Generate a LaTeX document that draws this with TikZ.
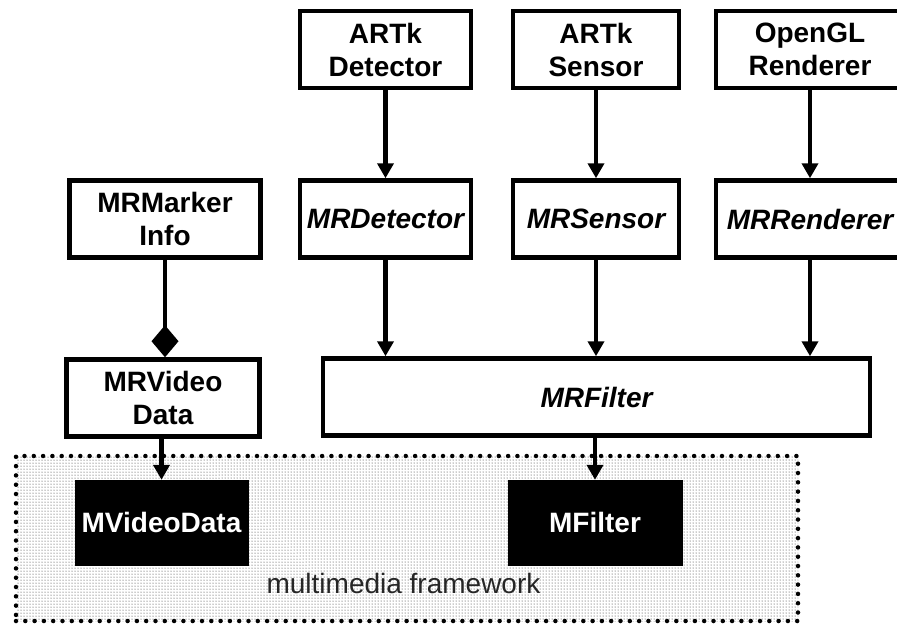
\documentclass[tikz,border=0pt]{standalone}
\usepackage{fontspec}
\setmainfont{Liberation Sans}
\usetikzlibrary{arrows.meta,patterns}
\begin{document}
\begin{tikzpicture}[x=1pt,y=-1pt,
  label font/.style={font=\bfseries\fontsize{28}{33}\selectfont},
  box/.style={draw,line width=4.5pt,inner sep=0pt,align=center,fill=white,label font},
  classbox/.style={box,font=\bfseries\itshape\fontsize{28}{33}\selectfont},
  corebox/.style={draw=black,fill=black,text=white,inner sep=0pt,align=center,label font},
  region/.style={draw,line width=4.5pt,dash pattern=on 0pt off 9.3pt,line cap=round,
    fill=white,postaction={pattern=dots,pattern color=black!85},inner sep=0pt},
  flow/.style={line width=4.5pt,-{Triangle[width=16pt,length=15pt]}},
  owns/.style={line width=4.5pt,-{Diamond[width=27pt,length=32pt]}}]
  \clip (0,0) rectangle (897,625);
  \useasboundingbox (0,0) rectangle (897,625);

  % framework area
  \node[region,minimum width=782pt,minimum height=165pt] (framework) at (407,538.5) {};
  \node[anchor=base,font=\fontsize{28}{33}\selectfont,text=black!85] (fwlabel) at (403.5,593) {multimedia framework};
  \node[corebox,minimum width=173pt,minimum height=85pt] (mvideo) at (161.5,522.5) {MVideoData};
  \node[corebox,minimum width=174pt,minimum height=85pt] (mfilter) at (595,522.5) {MFilter};

  % toolkit layer
  \node[box,minimum width=171pt,minimum height=77pt] (artkdet) at (385.5,49.5) {ARTk\\Detector};
  \node[box,minimum width=166pt,minimum height=77pt] (artksen) at (596,49.5) {ARTk\\Sensor};
  \node[box,minimum width=188pt,minimum height=77pt] (ogl) at (810,49.5) {OpenGL\\Renderer};

  % MR classes
  \node[box,minimum width=191pt,minimum height=77pt] (mrmarker) at (165,219) {MRMarker\\Info};
  \node[classbox,minimum width=171pt,minimum height=77pt] (mrdet) at (385.5,219) {MRDetector};
  \node[classbox,minimum width=166pt,minimum height=77pt] (mrsen) at (596,219) {MRSensor};
  \node[classbox,minimum width=188pt,minimum height=77pt] (mrrend) at (810,219) {MRRenderer};
  \node[box,minimum width=193pt,minimum height=77pt] (mrvideo) at (163,398) {MRVideo\\Data};
  \node[classbox,minimum width=547pt,minimum height=77pt] (mrfilter) at (596.5,397) {MRFilter};

  % connectors
  \draw[flow] (artkdet) -- (mrdet);
  \draw[flow] (artksen) -- (mrsen);
  \draw[flow] (ogl) -- (mrrend);
  \draw[flow] (mrdet.south) -- (mrdet.south |- mrfilter.north);
  \draw[flow] (mrsen.south) -- (mrsen.south |- mrfilter.north);
  \draw[flow] (mrrend.south) -- (mrrend.south |- mrfilter.north);
  \draw[owns] (mrmarker.south) -- (mrmarker.south |- mrvideo.north);
  \draw[flow] (mvideo.north |- mrvideo.south) -- (mvideo.north);
  \draw[flow] (mfilter.north |- mrfilter.south) -- (mfilter.north);
\end{tikzpicture}
\end{document}
